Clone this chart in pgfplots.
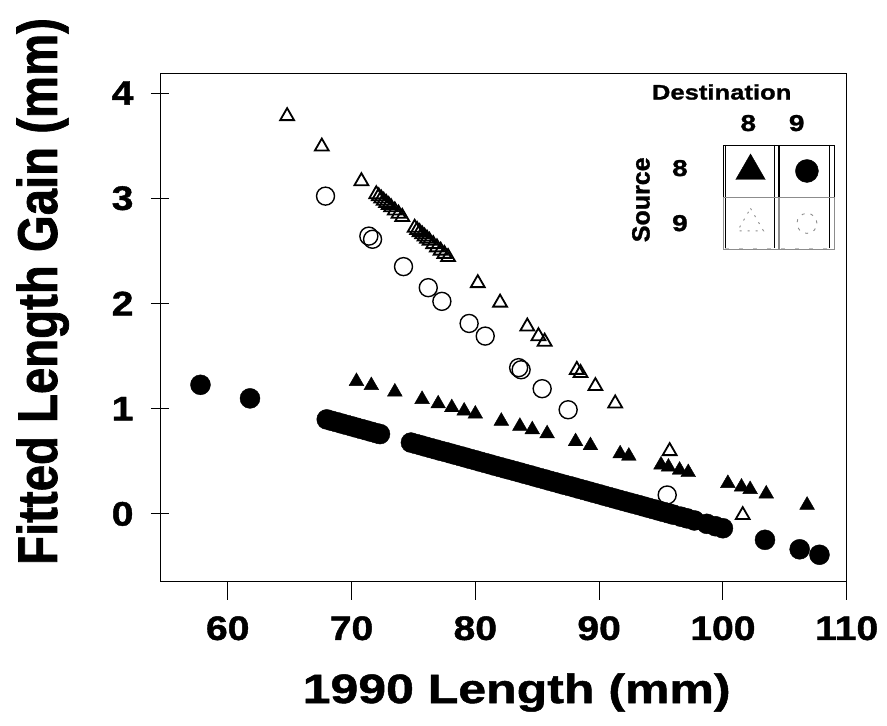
\documentclass[border=0pt]{standalone}
\usepackage{graphicx}
\usepackage{fontspec}
\setmainfont{Liberation Sans}
\newfontfamily\wideA[FakeStretch=1.15,FakeBold=1.2]{Liberation Sans}
\newfontfamily\wideB[FakeStretch=1.22,FakeBold=1.2]{Liberation Sans}
\newfontfamily\narrowY[FakeStretch=0.845,FakeBold=1.2]{Liberation Sans}
\newfontfamily\plainB[FakeBold=1.2]{Liberation Sans}
\usepackage{pgfplots}
\pgfplotsset{compat=1.18}
\begin{document}
\begin{tikzpicture}
\path[use as bounding box] (0,0) rectangle (887pt,726pt);
\begin{axis}[
  at={(160pt,144.3pt)}, anchor=south west,
  scale only axis, width=686.7pt, height=508.7pt,
  xmin=54.53, xmax=110, ymin=-0.644, ymax=4.19,
  xtick={60,70,80,90,100,110}, ytick={0,1,2,3,4},
  tick pos=left,
  xtick align=outside, ytick align=center,
  major tick length=18pt,
  tick style={line width=0.9pt, black},
  axis line style={line width=0.9pt},
  /pgf/number format/assume math mode=true,
  ticklabel style={font=\fontsize{34}{34}\wideA\bfseries},
  xticklabel style={yshift=-13pt},
  yticklabel style={xshift=-14pt},
  xlabel={1990 Length (mm)},
  ylabel={Fitted Length Gain (mm)},
  xlabel style={at={(axis description cs:0.5194,-0.2385)}, anchor=base, font=\fontsize{41}{41}\wideB\bfseries},
  ylabel style={at={(axis description cs:-0.150,0.5705)}, anchor=base, font=\fontsize{56}{56}\narrowY\bfseries},
  legend columns=2,
  legend style={at={(axis cs:104.55,3.01)}, anchor=center, draw=none, fill=none,
    inner sep=0pt, outer sep=0pt, column sep=0pt, row sep=0pt, nodes={inner sep=0pt}},
  legend image code/.code={\path (-27.5pt,-26pt) rectangle (27.5pt,26pt); \draw[#1] plot coordinates {(0pt,0pt)};},
]
% Source 9, Destination 9 : open circles
\addplot[forget plot, only marks, mark=o, mark size=9pt, black, mark options={line width=1.4pt}] coordinates {
(67.9,3.02) (71.4,2.64) (71.7,2.61) (74.2,2.35) (76.2,2.15) (77.3,2.02)
(79.5,1.81) (80.8,1.69) (83.5,1.39) (83.7,1.37) (85.4,1.19) (87.5,0.99) (95.5,0.18)
};
% Source 9, Destination 8 : open triangles
\addplot[forget plot, only marks, mark=triangle, mark size=8pt, black, mark options={line width=1.8pt}] coordinates {
(64.8,3.780) (67.6,3.491) (70.8,3.162)
(72.0,3.038) (72.2,3.018) (72.4,2.997) (72.6,2.976) (72.8,2.956) (73.0,2.935) (73.2,2.914) (73.5,2.884) (73.8,2.853) (74.1,2.822)
(75.1,2.719) (75.3,2.698) (75.5,2.678) (75.7,2.657) (75.9,2.636) (76.1,2.616) (76.3,2.595) (76.6,2.564) (76.9,2.533) (77.2,2.502) (77.5,2.471) (77.8,2.441)
(80.2,2.193) (82.0,2.008) (84.2,1.781) (85.1,1.689) (85.6,1.637) (88.2,1.369) (88.5,1.339)
(89.7,1.215) (91.3,1.050) (95.7,0.597) (101.6,-0.011)
};
% Source 8, Destination 8 : filled triangles
\addplot[forget plot, only marks, mark=triangle*, mark size=8.5pt, black, mark options={fill=black}] coordinates {
(70.4,1.260) (71.6,1.221) (73.5,1.160) (75.7,1.089) (77.0,1.047) (78.1,1.011) (79.1,0.979) (80.0,0.950)
(82.1,0.882) (83.6,0.834) (84.6,0.801) (85.8,0.763) (88.1,0.688) (89.3,0.650) (91.7,0.572) (92.4,0.550)
(95.0,0.466) (95.6,0.446) (96.5,0.417) (97.2,0.394) (100.4,0.291) (101.5,0.256) (102.2,0.233) (103.5,0.191) (106.8,0.084)
};
% Source 8, Destination 9 : filled circles
\addplot[forget plot, only marks, mark=*, mark size=10pt, black, mark options={fill=black}] coordinates {
(57.8,1.227) (61.8,1.098)
(68.0,0.898) (68.4,0.885) (68.8,0.872) (69.2,0.859) (69.6,0.846) (70.0,0.833) (70.4,0.820) (70.8,0.807)
(71.2,0.794) (71.6,0.781) (72.0,0.768) (72.3,0.759)
(74.8,0.678) (75.2,0.665) (75.6,0.652) (76.0,0.639) (76.4,0.626) (76.8,0.613) (77.2,0.600) (77.6,0.588)
(78.0,0.575) (78.4,0.562) (78.8,0.549) (79.2,0.536) (79.6,0.523) (80.0,0.510) (80.4,0.497) (80.8,0.484)
(81.2,0.471) (81.6,0.458) (82.0,0.445) (82.4,0.432) (82.8,0.420) (83.2,0.407) (83.6,0.394) (84.0,0.381)
(84.4,0.368) (84.8,0.355) (85.2,0.342) (85.6,0.329) (86.0,0.316) (86.4,0.303) (86.8,0.290) (87.2,0.277)
(87.6,0.265) (88.0,0.252) (88.4,0.239) (88.8,0.226) (89.2,0.213) (89.6,0.200) (90.0,0.187) (90.4,0.174)
(90.8,0.161) (91.2,0.148) (91.6,0.135) (92.0,0.122) (92.4,0.109) (92.8,0.097) (93.2,0.084) (93.6,0.071)
(94.0,0.058) (94.4,0.045) (94.8,0.032) (95.2,0.019) (95.6,0.006) (96.0,-0.007) (96.6,-0.026)
(97.1,-0.042) (97.7,-0.062) (98.7,-0.094) (99.4,-0.117) (100.0,-0.136)
(103.4,-0.246) (106.2,-0.336) (107.8,-0.388)
};
% legend symbols
\addlegendimage{mark=triangle*, mark size=17pt, black, mark options={fill=black}}
\addlegendentry{}
\addlegendimage{mark=*, mark size=11.5pt, black, mark options={fill=black}}
\addlegendentry{}
\addlegendimage{mark=triangle, mark size=15pt, black!45, mark options={line width=0.9pt, dash pattern=on 2pt off 6pt}}
\addlegendentry{}
\addlegendimage{mark=o, mark size=10pt, black!45, mark options={line width=0.9pt, dash pattern=on 3pt off 6pt}}
\addlegendentry{}
% legend frame lines
\draw[line width=1pt] (axis cs:100.17,3.508) -- (axis cs:100.17,2.529);
\draw[line width=1pt] (axis cs:104.13,3.508) -- (axis cs:104.13,2.529);
\draw[line width=1pt] (axis cs:108.59,3.508) -- (axis cs:108.59,2.529);
\draw[line width=0.5pt, black!25, dash pattern=on 4pt off 10pt] (axis cs:100.17,3.508) -- (axis cs:108.59,3.508);
\draw[line width=0.5pt, black!25, dash pattern=on 4pt off 10pt] (axis cs:100.17,2.529) -- (axis cs:108.59,2.529);
% legend texts
\node[font=\fontsize{21}{21}\wideB\bfseries] at (axis cs:99.90,4.009) {Destination};
\node[font=\fontsize{23}{23}\wideB\bfseries] at (axis cs:102.05,3.714) {8};
\node[font=\fontsize{23}{23}\wideB\bfseries] at (axis cs:105.96,3.714) {9};
\node[font=\fontsize{23}{23}\wideB\bfseries] at (axis cs:96.53,3.286) {8};
\node[font=\fontsize{23}{23}\wideB\bfseries] at (axis cs:96.53,2.763) {9};
\node[font=\fontsize{25}{25}\plainB\bfseries, rotate=90] at (axis cs:93.38,2.985) {Source};
\end{axis}
\end{tikzpicture}
\end{document}
